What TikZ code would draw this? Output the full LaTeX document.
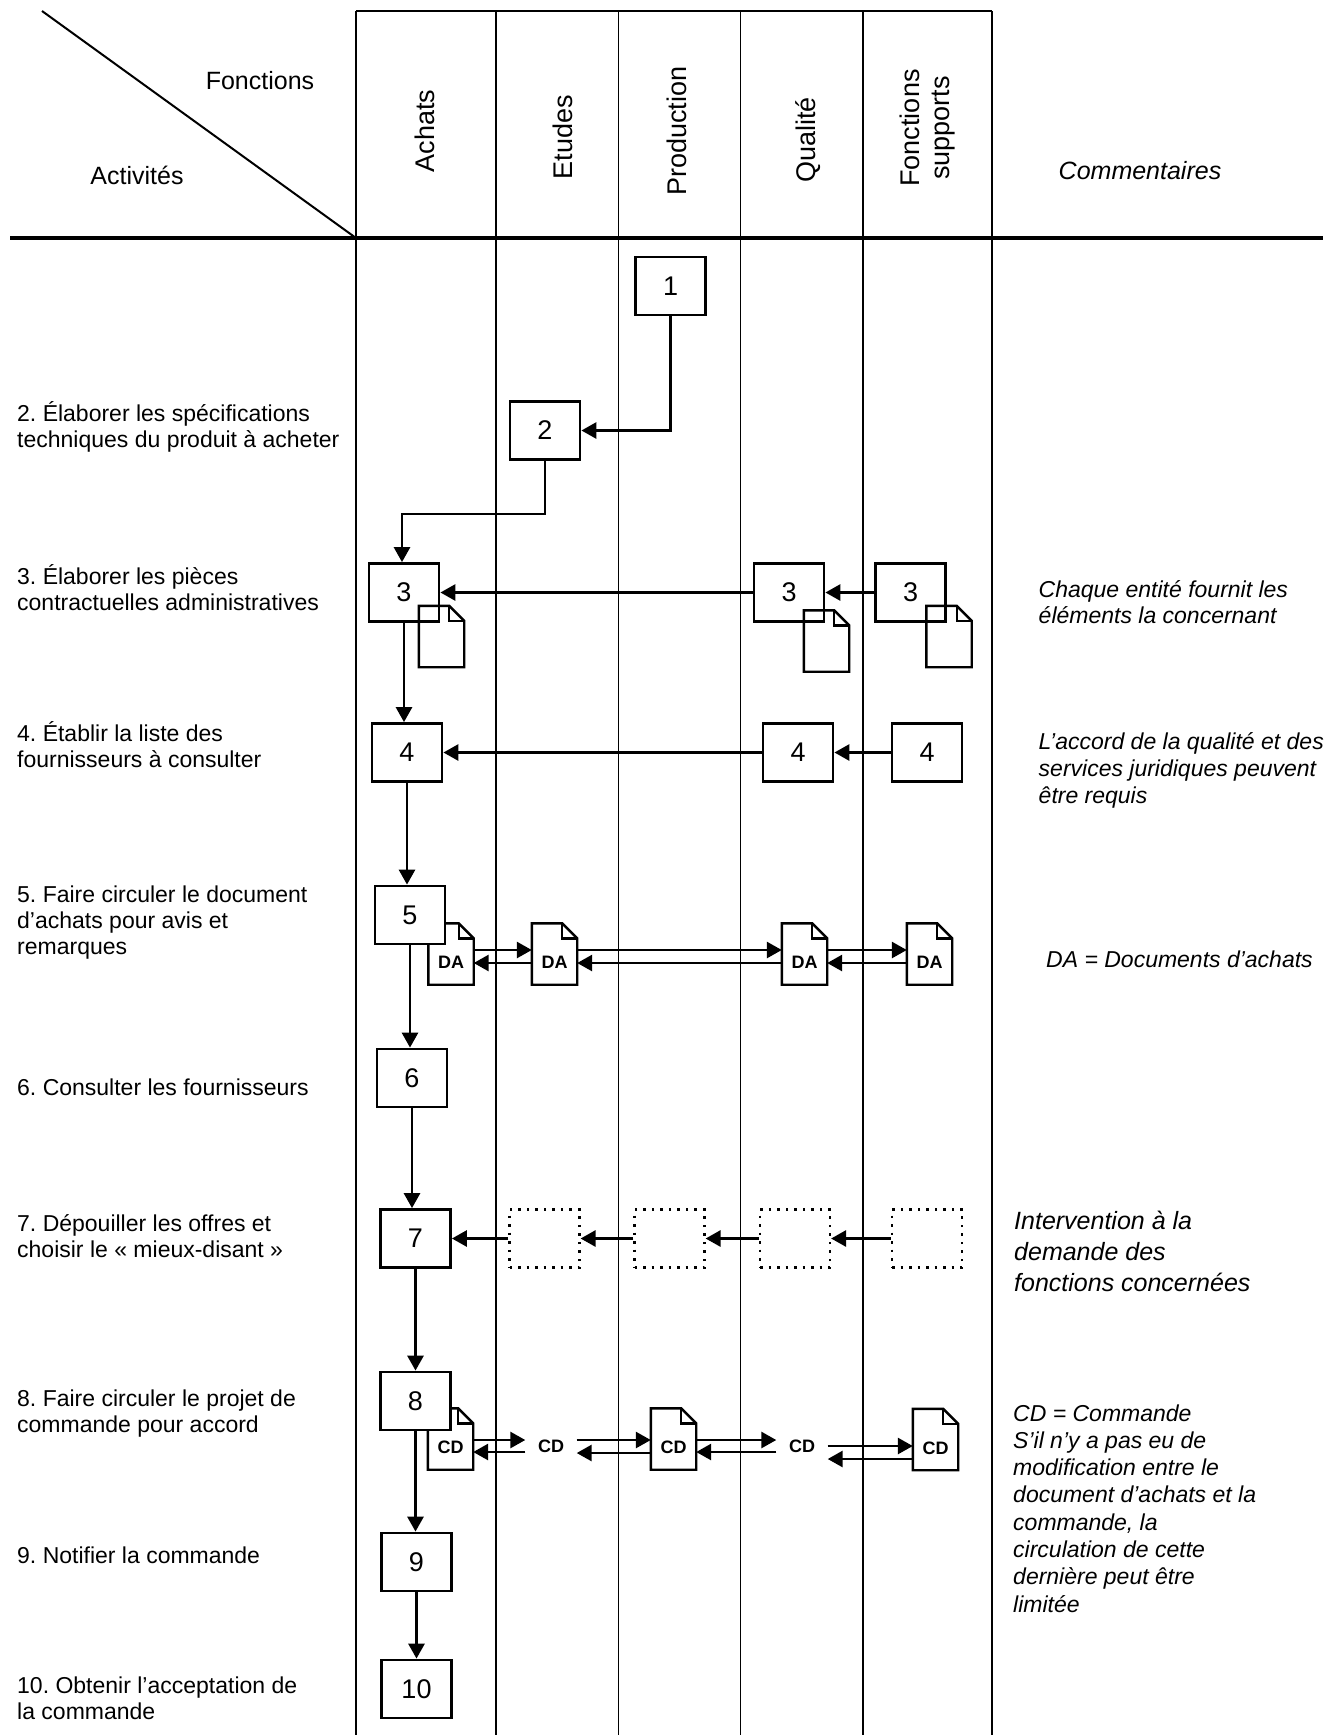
\documentclass[tikz,border=0pt]{standalone}
\usepackage{fontspec}
\setmainfont{Liberation Sans}
\usetikzlibrary{arrows.meta,calc}
\frenchspacing
\newcommand\ml[1]{\vtop{\halign{##\hfil\cr#1\crcr}}}
\newcommand\dtxt[1]{\raisebox{-14.5pt}[0pt][0pt]{\fontsize{18}{18}\selectfont\bfseries #1}}
\newcommand\drawdoc[1]{%
  \draw[docline] (#1.north west) -- ([xshift=-15pt]#1.north east) -- ([yshift=-15pt]#1.north east) -- (#1.south east) -- (#1.south west) -- cycle;
  \draw[docline] ([xshift=-15pt]#1.north east) |- ([yshift=-15pt]#1.north east);}
\begin{document}
\begin{tikzpicture}[x=1pt,y=-1pt,
  proc/.style={draw, line width=2.8pt, minimum width=70pt, minimum height=58pt, fill=white, inner sep=0pt, font=\fontsize{27}{27}\selectfont},
  ghost/.style={draw, line width=2.2pt, dash pattern=on 2.5pt off 6pt, minimum width=70pt, minimum height=58pt, inner sep=0pt},
  docnode/.style={minimum width=45pt, minimum height=61pt, inner sep=0pt},
  docline/.style={line width=2.4pt, line join=miter},
  arr/.style={line width=2.8pt, -{Triangle[length=15pt,width=16pt]}},
  grid/.style={line width=1.6pt},
  acttxt/.style={anchor=base west, inner sep=0pt, font=\fontsize{23}{26}\selectfont},
  comtxt/.style={anchor=base west, inner sep=0pt, font=\fontsize{23}{26.8}\selectfont\itshape},
  hdr/.style={inner sep=0pt, font=\fontsize{25}{25}\selectfont},
  col/.style={inner sep=0pt, rotate=90, align=center, font=\fontsize{27}{30}\selectfont},
  cdlab/.style={inner sep=0pt, minimum width=51pt, minimum height=20pt, font=\fontsize{18}{18}\selectfont\bfseries}
]
\useasboundingbox (0,0) rectangle (1323,1735);
% ---------- grid ----------
\draw[line width=2pt] (356,11) -- (992,11);
\foreach \x in {356,496,618.5,740.5,863,992} \draw[grid] (\x,11) -- (\x,1735);
\draw[line width=2pt] (42,11) -- (356,238);
\draw[line width=4pt] (10,238) -- (1323,238);
% ---------- headers ----------
\node[hdr] (hf) at (260,81) {Fonctions};
\node[hdr] (ha) at (137,175) {Activités};
\node[hdr, font=\fontsize{25}{25}\selectfont\itshape] (hc) at (1140,171) {Commentaires};
\node[col] (c1) at (425,131) {Achats};
\node[col] (c2) at (563,137) {Etudes};
\node[col] (c3) at (677,131) {Production};
\node[col] (c4) at (808,140) {Qualité};
\node[col] (c5) at (928,128) {Fonctions\\supports};
% ---------- documents behind boxes ----------
\node[docnode] (da1) at (451,954) {\dtxt{DA}};
\node[docnode] (da2) at (554.5,954) {\dtxt{DA}};
\node[docnode] (da3) at (804.5,954) {\dtxt{DA}};
\node[docnode] (da4) at (929.5,954) {\dtxt{DA}};
\node[docnode] (cd1) at (450.5,1439) {\dtxt{CD}};
\node[docnode] (cd2) at (673.5,1439) {\dtxt{CD}};
\node[docnode] (cd4) at (935.5,1439.5) {\dtxt{CD}};
\drawdoc{da1}\drawdoc{da2}\drawdoc{da3}\drawdoc{da4}
\drawdoc{cd1}\drawdoc{cd2}\drawdoc{cd4}
\node[cdlab] (cl1) at (551,1446) {CD};
\node[cdlab] (cl2) at (802,1446) {CD};
% ---------- boxes ----------
\node[proc] (b1) at (670.5,286) {1};
\node[proc] (b2) at (545,430.5) {2};
\node[proc] (b3a) at (404,592.5) {3};
\node[proc] (b3b) at (789,592.5) {3};
\node[proc] (b3c) at (910.5,592.5) {3};
\node[proc] (b4a) at (407,752.5) {4};
\node[proc] (b4b) at (798,752.5) {4};
\node[proc] (b4c) at (927,752.5) {4};
\node[proc] (b5) at (410,915) {5};
\node[proc] (b6) at (412,1078) {6};
\node[proc] (b7) at (415.5,1238.5) {7};
\node[ghost] (g1) at (544.5,1238.5) {};
\node[ghost] (g2) at (669.5,1238.5) {};
\node[ghost] (g3) at (795,1238.5) {};
\node[ghost] (g4) at (927,1238.5) {};
\node[proc] (b8) at (415.5,1401) {8};
\node[proc] (b9) at (416.5,1562) {9};
\node[proc] (b10) at (416.5,1689) {10};
% ---------- documents over boxes (row 3) ----------
\node[docnode] (d3a) at (441.5,636.5) {};
\node[docnode] (d3b) at (826.5,641) {};
\node[docnode] (d3c) at (949,636.5) {};
\drawdoc{d3a}\drawdoc{d3b}\drawdoc{d3c}
% ---------- connectors ----------
\draw[arr] (b1.south) |- (b2.east);
\coordinate (j23) at (402,514);
\draw[arr] (b2.south) |- (j23) -- (j23 |- b3a.north);
\draw[arr] (b3c.west) -- (b3b.east);
\draw[arr] (b3b.west) -- (b3a.east);
\draw[arr] (b3a.south) -- (b3a.south |- b4a.north);
\draw[arr] (b4c.west) -- (b4b.east);
\draw[arr] (b4b.west) -- (b4a.east);
\draw[arr] (b4a.south) -- (b4a.south |- b5.north);
\draw[arr] (b5.south) -- (b5.south |- b6.north);
\draw[arr] (b6.south) -- (b6.south |- b7.north);
\draw[arr] (g4.west) -- (g3.east);
\draw[arr] (g3.west) -- (g2.east);
\draw[arr] (g2.west) -- (g1.east);
\draw[arr] (g1.west) -- (b7.east);
\draw[arr] (b7.south) -- (b7.south |- b8.north);
\draw[arr] (b8.south) -- (b8.south |- b9.north);
\draw[arr] (b9.south) -- (b9.south |- b10.north);
% DA circulation
\draw[arr] ([yshift=4pt]da1.east) -- ([yshift=4pt]da2.west);
\draw[arr] ([yshift=-9pt]da2.west) -- ([yshift=-9pt]da1.east);
\draw[arr] ([yshift=4pt]da2.east) -- ([yshift=4pt]da3.west);
\draw[arr] ([yshift=-9pt]da3.west) -- ([yshift=-9pt]da2.east);
\draw[arr] ([yshift=4pt]da3.east) -- ([yshift=4pt]da4.west);
\draw[arr] ([yshift=-9pt]da4.west) -- ([yshift=-9pt]da3.east);
% CD circulation
\draw[arr] ([yshift=-1pt]cd1.east) -- ([yshift=-1pt]cd1.east -| cl1.west);
\draw[arr] ([yshift=-13pt]cd1.east -| cl1.west) -- ([yshift=-13pt]cd1.east);
\draw[arr] ([yshift=-1pt]cd1.east -| cl1.east) -- ([yshift=-1pt]cd2.west);
\draw[arr] ([yshift=-14pt]cd2.west) -- ([yshift=-14pt]cd2.west -| cl1.east);
\draw[arr] ([yshift=-1pt]cd2.east) -- ([yshift=-1pt]cd2.east -| cl2.west);
\draw[arr] ([yshift=-13pt]cd2.east -| cl2.west) -- ([yshift=-13pt]cd2.east);
\draw[arr] ([yshift=-6.5pt]cd4.west -| cl2.east) -- ([yshift=-6.5pt]cd4.west);
\draw[arr] ([yshift=-19.5pt]cd4.west) -- ([yshift=-19.5pt]cd4.west -| cl2.east);
% ---------- activity texts ----------
\node[acttxt] (a2) at (17,421.7) {\ml{2. Élaborer les spécifications\cr techniques du produit à acheter}};
\node[acttxt] (a3) at (17,584.5) {\ml{3. Élaborer les pièces\cr contractuelles administratives}};
\node[acttxt] (a4) at (17,741) {\ml{4. Établir la liste des\cr fournisseurs à consulter}};
\node[acttxt] (a5) at (17,902.6) {\ml{5. Faire circuler le document\cr d’achats pour avis et\cr remarques}};
\node[acttxt] (a6) at (17,1095) {\ml{6. Consulter les fournisseurs}};
\node[acttxt] (a7) at (17,1231) {\ml{7. Dépouiller les offres et\cr choisir le « mieux-disant »}};
\node[acttxt] (a8) at (17,1406) {\ml{8. Faire circuler le projet de\cr commande pour accord}};
\node[acttxt] (a9) at (17,1563) {\ml{9. Notifier la commande}};
\node[acttxt] (a10) at (17,1693.5) {\ml{10. Obtenir l’acceptation de\cr la commande}};
% ---------- comments ----------
\node[comtxt] (k3) at (1038.5,597) {\ml{Chaque entité fournit les\cr éléments la concernant}};
\node[comtxt] (k4) at (1038.5,749.5) {\ml{L’accord de la qualité et des\cr services juridiques peuvent\cr être requis}};
\node[comtxt] (k5) at (1046,967) {\ml{DA = Documents d’achats}};
\node[comtxt, font=\fontsize{25}{31}\selectfont\itshape] (k7) at (1014,1229.6) {\ml{Intervention à la\cr demande des\cr fonctions concernées}};
\node[comtxt, font=\fontsize{23}{27.3}\selectfont\itshape] (k8) at (1013,1421) {\ml{CD = Commande\cr S’il n’y a pas eu de\cr modification entre le\cr document d’achats et la\cr commande, la\cr circulation de cette\cr dernière peut être\cr limitée}};
\end{tikzpicture}
\end{document}
